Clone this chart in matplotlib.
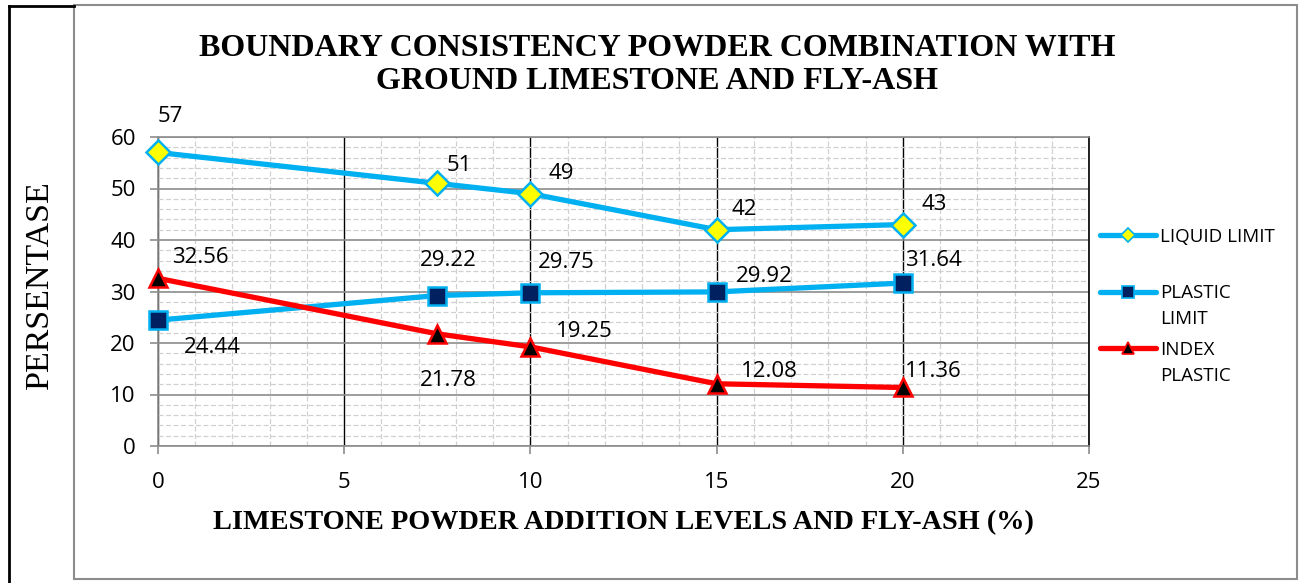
import matplotlib
matplotlib.use("Agg")
import matplotlib.pyplot as plt
from matplotlib.patches import Rectangle
from matplotlib.lines import Line2D
from matplotlib.ticker import MultipleLocator

x = [0, 7.5, 10, 15, 20]
liquid = [57, 51, 49, 42, 43]
plastic = [24.44, 29.22, 29.75, 29.92, 31.64]
index = [32.56, 21.78, 19.25, 12.08, 11.36]
series_first = ["LIQUID LIMIT", "PLASTIC", "INDEX"]
series_second = ["", "LIMIT", "PLASTIC"]

# label offsets in pixels (dx, dy) relative to points
liq_off = [(12, 36), (22, 18), (31, 20), (28, 20), (31, 20)]
pla_off = [(54, -27), (11, 35), (36, 30), (48, 15), (31, 23)]
ind_off = [(42, 21), (11, -47), (54, 15), (53, 12), (31, 16)]

W, H = 1303, 583
fig = plt.figure(figsize=(W/100, H/100), dpi=100)
ax = fig.add_axes([158/W, 1-446/H, (1089-158)/W, (446-137)/H])

cyan = "#00B0F0"
red = "#FF0000"
navy = "#002060"

ax.set_xlim(0, 25)
ax.set_ylim(0, 60)
ax.xaxis.set_major_locator(MultipleLocator(5))
ax.xaxis.set_minor_locator(MultipleLocator(1))
ax.yaxis.set_major_locator(MultipleLocator(10))
ax.yaxis.set_minor_locator(MultipleLocator(2))
ax.grid(which="minor", axis="both", color="#D0D0D0", linestyle=(0, (4, 2)), linewidth=0.9)
ax.grid(which="major", axis="y", color="#8C8C8C", linestyle="-", linewidth=1.2)
ax.grid(which="major", axis="x", color="black", linestyle="-", linewidth=1.0)
ax.set_axisbelow(True)
ax.spines["top"].set_color("#8C8C8C")
ax.spines["right"].set_color("black")
ax.spines["left"].set_color("#8C8C8C")
ax.spines["bottom"].set_color("#8C8C8C")
for s in ax.spines.values():
    s.set_linewidth(1.2)
ax.tick_params(which="minor", length=0)
ax.tick_params(which="major", length=6, width=1.2, color="#8C8C8C", labelsize=16)
ax.tick_params(axis="y", pad=10)
ax.tick_params(axis="x", pad=13)
for lab in ax.get_xticklabels() + ax.get_yticklabels():
    lab.set_fontfamily("Open Sans")

lw = 3.8
l1, = ax.plot(x, liquid, color=cyan, lw=lw, marker="D", ms=12.5, mfc="#FFFF00",
              mec=cyan, mew=1.8, solid_capstyle="round", zorder=3, clip_on=False)
l2, = ax.plot(x, plastic, color=cyan, lw=lw, marker="s", ms=13, mfc=navy,
              mec=cyan, mew=1.8, solid_capstyle="round", zorder=3, clip_on=False)
l3, = ax.plot(x, index, color=red, lw=lw, marker="^", ms=13, mfc="black",
              mec=red, mew=1.8, solid_capstyle="round", zorder=4, clip_on=False)

def fmt(v):
    return ("%g" % v)

for vals, offs in [(liquid, liq_off), (plastic, pla_off), (index, ind_off)]:
    for xi, v, (dx, dy) in zip(x, vals, offs):
        ax.annotate(fmt(v), (xi, v), xytext=(dx*0.72, dy*0.72), textcoords="offset points",
                    ha="center", va="center", fontsize=16, fontfamily="Open Sans",
                    annotation_clip=False)

fig.text(657/W, 1-65/H, "BOUNDARY CONSISTENCY POWDER COMBINATION WITH\nGROUND LIMESTONE AND FLY-ASH",
         ha="center", va="center", fontsize=23, fontweight="bold", fontfamily="Liberation Serif",
         linespacing=1.22)
fig.text(623/W, 1-523/H, "LIMESTONE POWDER ADDITION LEVELS AND FLY-ASH (%)",
         ha="center", va="center", fontsize=20.3, fontweight="bold", fontfamily="Liberation Serif")
fig.text(40/W, 1-285/H, "PERSENTASE", rotation=90, ha="center", va="center",
         fontsize=24.5, fontfamily="Liberation Serif")

# legend handles with small markers
h1 = Line2D([], [], color=cyan, lw=lw, marker="D", ms=7, mfc="#FFFF00", mec=cyan, mew=1.2,
            solid_capstyle="round")
h2 = Line2D([], [], color=cyan, lw=lw, marker="s", ms=8, mfc=navy, mec=cyan, mew=1.2,
            solid_capstyle="round")
h3 = Line2D([], [], color=red, lw=lw, marker="^", ms=8, mfc="black", mec=red, mew=1.2,
            solid_capstyle="round")
leg = fig.legend([h1, h2, h3], series_first, loc="upper left",
                 bbox_to_anchor=(1100/W, 1-228/H), frameon=False,
                 prop={"family": "Open Sans", "size": 13.5}, handlelength=3.0,
                 handletextpad=0.2, labelspacing=2.05, borderpad=0, borderaxespad=0)
fig.canvas.draw()
r = fig.canvas.get_renderer()
for t, extra in zip(leg.get_texts(), series_second):
    if extra:
        bb = t.get_window_extent(r)
        fig.text(bb.x0/W, (bb.y0 + (bb.y1 - bb.y0)/2 - 26)/H, extra, ha="left", va="center",
                 fontsize=13.5, fontfamily="Open Sans")

# frames
fig.add_artist(Rectangle((74/W, 1-579/H), (1297-74)/W, (579-5)/H, transform=fig.transFigure,
                         fill=False, edgecolor="#8C8C8C", linewidth=1.5))
fig.add_artist(Line2D([9/W, 9/W], [0, 1-6/H], transform=fig.transFigure, color="black", lw=2))
fig.add_artist(Line2D([9/W, 74/W], [1-6/H, 1-6/H], transform=fig.transFigure, color="black", lw=2))

fig.savefig("out.png", dpi=100)
